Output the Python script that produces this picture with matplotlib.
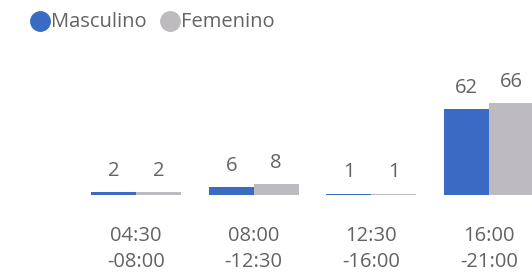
import matplotlib
matplotlib.use("Agg")
import matplotlib.pyplot as plt
from matplotlib.lines import Line2D
import numpy as np

categories = ["04:30\n-08:00", "08:00\n-12:30", "12:30\n-16:00", "16:00\n-21:00"]
masculino = [2, 6, 1, 62]
femenino = [2, 8, 1, 66]
series_names = ["Masculino", "Femenino"]
colors = ["#3A6BC4", "#BDBBBF"]
text_color = "#636363"

plt.rcParams['font.family'] = ['Open Sans', 'DejaVu Sans']

W, H = 532, 272
fig = plt.figure(figsize=(W/100, H/100), dpi=100)
base_px = 195
ax_h_px = 100
ax = fig.add_axes([0, (H - base_px)/H, 1, ax_h_px/H])

step_px = 117.7
c0_px = 136
ax.set_xlim(-c0_px/step_px, (W - c0_px)/step_px)
ax.set_ylim(0, ax_h_px/1.39)

x = np.arange(len(categories))
bw = 45/step_px
b1 = ax.bar(x - bw/2, masculino, bw, color=colors[0], linewidth=0)
b2 = ax.bar(x + bw/2, femenino, bw, color=colors[1], linewidth=0)
for bars in (b1, b2):
    ax.bar_label(bars, padding=8, fontsize=14.5, color=text_color)

ax.set_xticks(x)
ax.set_xticklabels(categories, fontsize=14.5, color=text_color, linespacing=1.45)
ax.tick_params(axis='x', length=0, pad=22)
ax.set_yticks([])
for s in ax.spines.values():
    s.set_visible(False)
ax.patch.set_alpha(0)

cx = [39.5, 169.5]
tx = [51, 181]
ly = 22
for i in range(2):
    fig.add_artist(Line2D([cx[i]/W], [1 - 21/H], marker='o', markersize=14,
                          color=colors[i], linestyle='none', transform=fig.transFigure))
    fig.text(tx[i]/W, 1 - ly/H, series_names[i], fontsize=14.5, color=text_color,
             va='center', ha='left')

fig.savefig("out.png", dpi=100)
